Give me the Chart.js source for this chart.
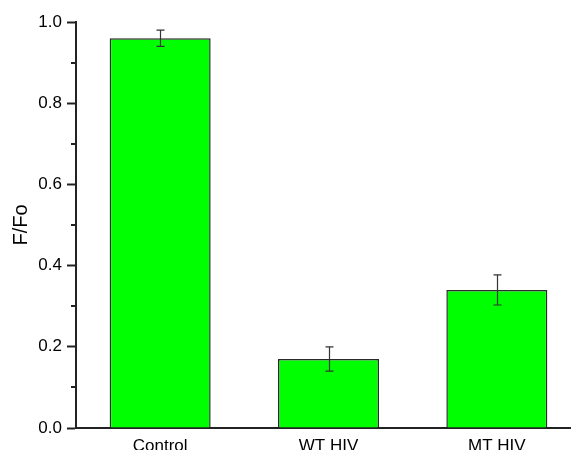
<!DOCTYPE html>
<html>
<head>
<meta charset="utf-8">
<script src="https://cdn.jsdelivr.net/npm/chart.js@4/dist/chart.umd.min.js"></script>
<style>
  html, body { margin: 0; padding: 0; background: #fff; overflow: hidden; }
  #wrap { width: 571px; height: 450px; overflow: hidden; position: relative; }
  canvas { display: block; }
</style>
</head>
<body>
<div id="wrap"><canvas id="c" width="590" height="450"></canvas></div>
<script>
// Fluorescence ratio per condition, with error bar half-widths
const categories = ['Control', 'WT HIV', 'MT HIV'];
const ratioValues = [0.96, 0.17, 0.34];
const ratioErrors = [0.02, 0.03, 0.037];
const yTickValues = [0.0, 0.2, 0.4, 0.6, 0.8, 1.0];

const FONT = '"Liberation Sans", Arial, sans-serif';
const AXIS_COLOR = '#222';

// Error bars drawn on top of each bar using the y scale
const errorBarPlugin = {
  id: 'errorBars',
  afterDatasetsDraw(chart) {
    const ctx = chart.ctx;
    const y = chart.scales.y;
    const meta = chart.getDatasetMeta(0);
    ctx.save();
    ctx.strokeStyle = '#333';
    ctx.lineWidth = 1.2;
    meta.data.forEach((bar, i) => {
      const x = Math.round(bar.x) + 0.5;
      const top = y.getPixelForValue(ratioValues[i] + ratioErrors[i]);
      const bot = y.getPixelForValue(ratioValues[i] - ratioErrors[i]);
      const cap = 4;
      ctx.beginPath();
      ctx.moveTo(x, top); ctx.lineTo(x, bot);
      ctx.moveTo(x - cap, top); ctx.lineTo(x + cap, top);
      ctx.moveTo(x - cap, bot); ctx.lineTo(x + cap, bot);
      ctx.stroke();
    });
    ctx.restore();
  }
};

// Short minor ticks halfway between the labelled y ticks
const minorTickPlugin = {
  id: 'minorTicks',
  afterDraw(chart) {
    const ctx = chart.ctx;
    const y = chart.scales.y;
    const right = chart.chartArea.left;
    ctx.save();
    ctx.strokeStyle = AXIS_COLOR;
    ctx.lineWidth = 2;
    for (let i = 0; i < yTickValues.length - 1; i++) {
      const v = (yTickValues[i] + yTickValues[i + 1]) / 2;
      const py = Math.round(y.getPixelForValue(v));
      ctx.beginPath();
      ctx.moveTo(right - 5, py);
      ctx.lineTo(right, py);
      ctx.stroke();
    }
    ctx.restore();
  }
};

new Chart(document.getElementById('c'), {
  type: 'bar',
  data: {
    labels: categories,
    datasets: [{
      data: ratioValues,
      backgroundColor: '#00ff00',
      borderColor: '#2a2a2a',
      borderWidth: 1.5,
      barPercentage: 0.6,
      categoryPercentage: 1.0
    }]
  },
  options: {
    responsive: false,
    animation: false,
    layout: { padding: { left: 0, top: 22, right: 9, bottom: 0 } },
    plugins: { legend: { display: false }, tooltip: { enabled: false } },
    scales: {
      x: {
        grid: { display: false, drawTicks: false },
        border: { display: true, color: AXIS_COLOR, width: 2 },
        ticks: { color: '#000', font: { family: FONT, size: 17 }, padding: 8, maxRotation: 0 },
        afterFit(scale) { scale.height = 22; }
      },
      y: {
        min: 0,
        max: 1.0,
        afterBuildTicks(scale) { scale.ticks = yTickValues.map(v => ({ value: v })); },
        grid: { display: true, drawOnChartArea: false, drawTicks: true, tickLength: 9, tickColor: AXIS_COLOR, tickWidth: 2 },
        border: { display: true, color: AXIS_COLOR, width: 2 },
        ticks: {
          color: '#000',
          font: { family: FONT, size: 17 },
          padding: 5,
          callback: v => Number(v).toFixed(1)
        },
        title: {
          display: true,
          text: 'F/Fo',
          color: '#000',
          font: { family: FONT, size: 20 },
          padding: { top: 9, bottom: 0 }
        },
        afterFit(scale) { scale.width = 76; }
      }
    }
  },
  plugins: [errorBarPlugin, minorTickPlugin]
});
</script>
</body>
</html>
